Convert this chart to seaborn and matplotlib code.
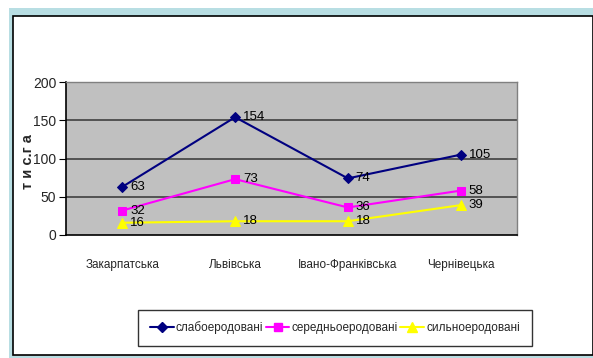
import matplotlib
matplotlib.use("Agg")
import matplotlib.pyplot as plt
from matplotlib.patches import Rectangle
from matplotlib.lines import Line2D
import pandas as pd
import seaborn as sns

regions = ["Закарпатська", "Львівська", "Івано-Франківська", "Чернівецька"]
weak = [63, 154, 74, 105]
medium = [32, 73, 36, 58]
strong = [16, 18, 18, 39]
series_names = ["слабоеродовані", "середньоеродовані", "сильноеродовані"]
y_ticks = [0, 50, 100, 150, 200]

colors = ["#000080", "#FF00FF", "#FFFF00"]
markers = ["D", "s", "^"]
msizes = [5, 6, 7]

sns.set_style("white")
plt.rcParams["font.family"] = ["Liberation Sans Narrow", "Liberation Sans", "DejaVu Sans"]

rows = []
for name, vals in zip(series_names, [weak, medium, strong]):
    for r, v in zip(regions, vals):
        rows.append({"region": r, "value": v, "series": name})
df = pd.DataFrame(rows)

fig = plt.figure(figsize=(5.93, 3.58), dpi=100)
W, H = 593, 358

# outer frame (light blue band + black inner border)
fig.patches.append(Rectangle((9 / W, 0), 584 / W, (H - 8) / H, transform=fig.transFigure,
                             facecolor="#B8DEE3", edgecolor="none", zorder=-2))
fig.patches.append(Rectangle((13 / W, 3 / H), 580 / W, (H - 16 - 3) / H, transform=fig.transFigure,
                             facecolor="white", edgecolor="black", linewidth=1.2, zorder=-1))
fig.lines.append(Line2D([13 / W, 593 / W], [3 / H, 3 / H], transform=fig.transFigure,
                        color="#C0C0C0", linewidth=1.5, zorder=-1))

ax = fig.add_axes([66 / W, (H - 235) / H, (517 - 66) / W, (235 - 82) / H])
ax.set_facecolor("#C0C0C0")

for i, name in enumerate(series_names):
    sub = df[df["series"] == name]
    sns.lineplot(data=sub, x="region", y="value", ax=ax, color=colors[i],
                 marker=markers[i], markersize=msizes[i], markeredgecolor=colors[i],
                 linewidth=1.5, sort=False, legend=False, zorder=3)
    for xi, v in enumerate(sub["value"]):
        ax.text(xi + 0.07, v, str(v), fontsize=9.5, va="center", ha="left",
                color="black", zorder=4)

ax.set_xlim(-0.5, 3.5)
ax.set_ylim(0, 200)
ax.set_yticks(y_ticks)
ax.set_yticklabels([str(t) for t in y_ticks], fontsize=10)
for t in y_ticks[1:]:
    ax.axhline(t, color="#404040", linewidth=1.2, zorder=1)

ax.set_xticks(range(len(regions)))
ax.set_xticklabels(regions, fontsize=8.5)
ax.tick_params(axis="x", length=0, pad=17)
ax.set_xticks([-0.5, 0.5, 1.5, 2.5, 3.5], minor=True)
ax.tick_params(axis="x", which="minor", length=5, direction="out", color="black")
ax.tick_params(axis="y", length=5, direction="out", color="black", pad=2, left=True)
ax.set_xlabel("")
ax.set_ylabel("т и с.г а", fontsize=10.5, fontweight="bold", labelpad=5)
ax.yaxis.set_label_coords(-0.068, 0.48)

for s in ["left", "bottom"]:
    ax.spines[s].set_color("black")
    ax.spines[s].set_linewidth(1.2)
for s in ["top", "right"]:
    ax.spines[s].set_color("#808080")
    ax.spines[s].set_linewidth(1.0)

handles = [Line2D([0], [0], color=colors[i], marker=markers[i], markersize=msizes[i],
                  linewidth=1.5, label=series_names[i]) for i in range(3)]
leg = fig.legend(handles=handles, loc="center", ncol=3,
                 bbox_to_anchor=((157 + 513) / 2 / W, 1 - 328 / H),
                 frameon=True, fancybox=False, edgecolor="black", fontsize=8.5,
                 handlelength=2.0, handletextpad=0.2, columnspacing=0.2,
                 borderpad=1.0, borderaxespad=0)
leg.get_frame().set_linewidth(1.0)

fig.savefig("out.png", dpi=100)
